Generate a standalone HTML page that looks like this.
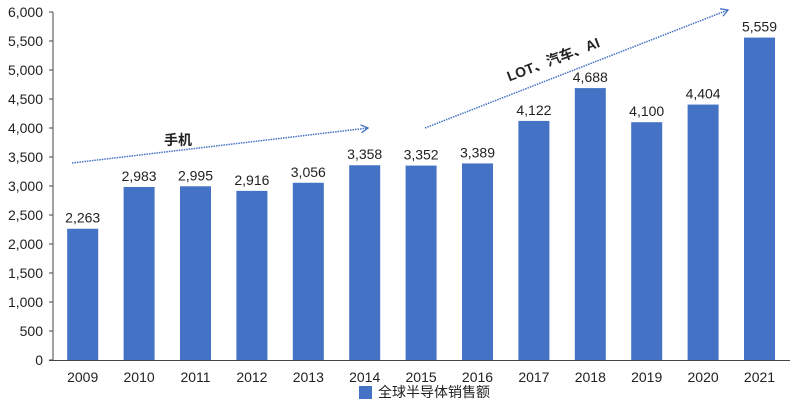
<!DOCTYPE html>
<html><head><meta charset="utf-8"><style>
body{margin:0;background:#fff}
svg text{font-family:"Liberation Sans","Noto Sans CJK SC",sans-serif;fill:#222}
</style></head><body>
<svg width="800" height="406" viewBox="0 0 800 406">
<defs><marker id="ah" markerWidth="10" markerHeight="10" refX="8" refY="5" orient="auto" markerUnits="userSpaceOnUse"><path d="M1,1 L8,5 L1,9" fill="none" stroke="#4472c4" stroke-width="1.3"/></marker></defs>
<g id="plot"></g>
<line x1="72" y1="163" x2="368" y2="128" stroke="#4472c4" stroke-width="1.5" stroke-dasharray="1.5,1" marker-end="url(#ah)"/>
<line x1="425" y1="128" x2="728" y2="10" stroke="#4472c4" stroke-width="1.5" stroke-dasharray="1.5,1" marker-end="url(#ah)"/>
<text x="178" y="145" font-size="14" font-weight="bold" text-anchor="middle">手机</text>
<text x="0" y="0" font-size="14" font-weight="bold" text-anchor="middle" transform="translate(555,64) rotate(-21)">LOT、汽车、AI</text>
<rect x="359" y="386" width="13" height="13" fill="#4472c4"/>
<text x="378" y="397" font-size="14">全球半导体销售额</text>
</svg>
<script>
const categories=["2009","2010","2011","2012","2013","2014","2015","2016","2017","2018","2019","2020","2021"];
const sales=[2263,2983,2995,2916,3056,3358,3352,3389,4122,4688,4100,4404,5559];
const valueLabels=["2,263","2,983","2,995","2,916","3,056","3,358","3,352","3,389","4,122","4,688","4,100","4,404","5,559"];
const yTicks=[0,500,1000,1500,2000,2500,3000,3500,4000,4500,5000,5500,6000];
const NS="http://www.w3.org/2000/svg";
const g=document.getElementById('plot');
const x0=54.5,bw=56.4,y0=360,y1=12,ymax=6000;
const y=v=>y0-(v/ymax)*(y0-y1);
const xc=i=>x0+bw*(i+0.5);
function mk(t,a){const e=document.createElementNS(NS,t);for(const k in a)e.setAttribute(k,a[k]);g.appendChild(e);return e;}
yTicks.forEach(v=>{
 const l=mk('line',{x1:49,x2:53,y1:y(v),y2:y(v),stroke:'#444'});
 
 
 const t=mk('text',{x:43,y:y(v)+5,'font-size':14,'text-anchor':'end'});t.textContent=v.toLocaleString('en-US');
 
 
});
sales.forEach((v,i)=>{
 const r=mk('rect',{x:xc(i)-15.5,y:y(v),width:31,height:y0-y(v),fill:'#4472c4'});
 
 
 const t=mk('text',{x:xc(i),y:y(v)-6,'font-size':14,'text-anchor':'middle'});t.textContent=valueLabels[i];
 
 
 const c=mk('text',{x:xc(i),y:382,'font-size':14,'text-anchor':'middle'});c.textContent=categories[i];
 
 
});
const ya=mk('line',{x1:53,x2:53,y1:12,y2:360,stroke:'#444'});


const xa=mk('line',{x1:49,x2:790,y1:360.5,y2:360.5,stroke:'#444'});


</script>
</body></html>
